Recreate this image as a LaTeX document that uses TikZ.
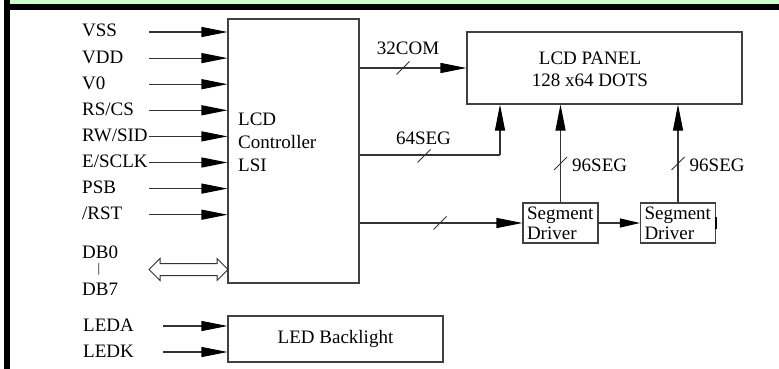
\documentclass[tikz,border=0pt]{standalone}
\usepackage{fontspec}
\setmainfont{Liberation Serif}
\usetikzlibrary{arrows.meta,shapes.arrows,calc}
\tikzset{
	txt/.style={font=\fontsize{19}{23}\selectfont, inner sep=0pt},
	pin/.style={txt, anchor=base west},
	box/.style={draw=black!75, line width=1.1pt, inner sep=0pt},
	segbox/.style={box, txt, minimum width=75pt, minimum height=40pt, text width=67pt,
		inner xsep=4pt, align=left, font=\fontsize{19}{20}\selectfont},
	sig/.style={draw=black!80, line width=1.1pt, -{Triangle[length=26pt, width=10pt, black]}},
	link/.style={draw=black!80, line width=1.1pt},
	busmark/.pic={\draw[black!80, line width=1pt] (-6.5,6.5) -- (6.5,-6.5);},
}
\begin{document}
\begin{tikzpicture}[x=1pt, y=-1pt]
		\useasboundingbox (0,0) rectangle (779,369);
		% frame
		\fill[green!20] (10,0) rectangle (779,4);
		\fill[black] (4,4) rectangle (779,10);
		\fill[black] (4,0) rectangle (10,369);
		% blocks
		\node[box, minimum width=131pt, minimum height=264pt] (ctrl) at (293.5,151) {};
		\node[txt, anchor=north west, align=left] (ctrltext) at (238,112.4) {LCD\\Controller\\LSI};
		\node[box, minimum width=275pt, minimum height=72pt] (panel) at (604.5,68) {};
		\node[txt, anchor=north, align=center, font=\fontsize{19}{22}\selectfont] (paneltext) at (590,51.4) {LCD PANEL\\128 x64 DOTS};
		\node[segbox] (segA) at (560.5,223) {Segment\\Driver};
		\node[segbox] (segB) at (678,223) {Segment\\Driver};
		\node[box, txt, minimum width=215pt, minimum height=46pt] (backlight) at (335.5,339) {LED Backlight};
		\draw[line width=2.5pt] ([yshift=-6pt]segB.east) -- ([yshift=6pt]segB.east);
		% input pins
		\def\pins{VSS, VDD, V0, RS/CS, RW/SID, E/SCLK, PSB, /RST}
		\foreach \pin [count = \k] in \pins{
			\pgfmathsetmacro\py{32 + 26.1*(\k - 1)}
			\node[pin] (pin\k) at (82, \py + 5) {\pin};
			\coordinate (src\k) at (149, \py);
			\draw[sig] (src\k) -- (src\k -| ctrl.west);
		}
		% data bus
		\node[pin] (db0) at (82,258) {DB0};
		\node[txt, font=\fontsize{13}{13}\selectfont] (dbbar) at (99,269) {|};
		\node[pin] (db7) at (82,295) {DB7};
		\node[double arrow, draw=black!80, line width=1pt, minimum height=79pt,
			double arrow head extend=5pt, inner xsep=0pt, inner ysep=5.5pt] (dbus) at (188.5,269.5) {};
		% backlight
		\node[pin] (leda) at (83,331) {LEDA};
		\node[pin] (ledk) at (83,357) {LEDK};
		\coordinate (srcA) at (163,326);
		\coordinate (srcK) at (163,352);
		\draw[sig] (srcA) -- (srcA -| backlight.west);
		\draw[sig] (srcK) -- (srcK -| backlight.west);
		% panel drive
		\draw[sig] (panel.west -| ctrl.east) -- (panel.west);
		\pic at (403,68) {busmark};
		\node[txt, anchor=base] (com) at (408,55) {32COM};
		\coordinate (bend) at (500,155);
		\draw[link] (bend -| ctrl.east) -- (bend);
		\draw[sig] (bend) -- (bend |- panel.south);
		\pic at (424,156) {busmark};
		\node[txt, anchor=base] (seg) at (423.5,144) {64SEG};
		\draw[sig] (segA.west -| ctrl.east) -- (segA.west);
		\pic at (440,223) {busmark};
		\draw[sig, -{Triangle[length=20pt, width=9pt, black]}] (segA.east) -- (segB.west);
		\foreach \drv in {segA, segB}{
			\draw[sig] (\drv.north) -- (\drv.north |- panel.south);
			\pic at ($(\drv.north) + (0,-39)$) {busmark};
			\node[txt, anchor=base west] (\drv label) at ($(\drv.north) + (11.5,-31)$) {96SEG};
		}
	\end{tikzpicture}
\end{document}
